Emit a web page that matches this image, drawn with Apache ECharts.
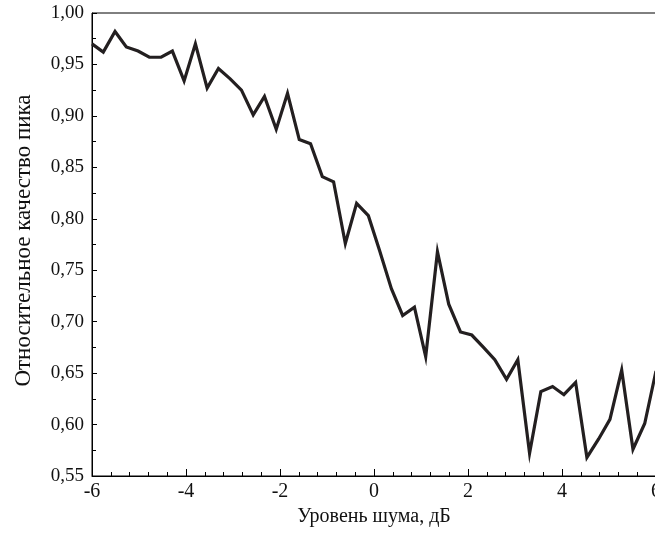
<!DOCTYPE html>
<html>
<head>
<meta charset="utf-8">
<script src="https://cdn.jsdelivr.net/npm/echarts@6/dist/echarts.min.js"></script>
<style>
html,body{margin:0;padding:0;background:#fff;}
#chart{width:655px;height:535px;}
</style>
</head>
<body>
<div id="chart"></div>
<script>
// Noise level, dB (x positions of the measured points)
const noiseDb = [
  -6.00, -5.76, -5.51, -5.27, -5.02, -4.78, -4.53, -4.29, -4.04, -3.80,
  -3.55, -3.31, -3.06, -2.82, -2.57, -2.33, -2.08, -1.84, -1.59, -1.35,
  -1.10, -0.86, -0.61, -0.37, -0.12, 0.12, 0.37, 0.61, 0.86, 1.10,
  1.35, 1.59, 1.84, 2.08, 2.33, 2.57, 2.82, 3.06, 3.31, 3.55,
  3.80, 4.04, 4.29, 4.53, 4.78, 5.02, 5.27, 5.51, 5.76, 6.00
];
// Relative peak quality
const peakQuality = [
  0.970, 0.962, 0.982, 0.967, 0.963, 0.957, 0.957, 0.963, 0.934, 0.970,
  0.927, 0.946, 0.936, 0.925, 0.901, 0.919, 0.887, 0.922, 0.877, 0.873,
  0.841, 0.836, 0.776, 0.815, 0.803, 0.769, 0.732, 0.706, 0.714, 0.666,
  0.768, 0.717, 0.690, 0.687, 0.675, 0.663, 0.644, 0.663, 0.572, 0.632,
  0.637, 0.629, 0.641, 0.568, 0.586, 0.605, 0.653, 0.576, 0.601, 0.652
];
const xTitle = 'Уровень шума, дБ';
const yTitle = 'Относительное качество пика';

const points = noiseDb.map((x, i) => [x, peakQuality[i]]);
const font = 'Liberation Serif';
const chart = echarts.init(document.getElementById('chart'));
chart.setOption({
  animation: false,
  backgroundColor: '#ffffff',
  grid: {left: 92, right: -1, top: 13, bottom: 59, show: true, borderColor: '#000', borderWidth: 1,
    containLabel: false, outerBoundsMode: 'none'},
  xAxis: {
    type: 'value', min: -6, max: 6, interval: 2,
    name: xTitle, nameLocation: 'middle', nameGap: 31,
    nameTextStyle: {fontFamily: font, fontSize: 20, color: '#111'},
    axisLine: {show: true, onZero: false, lineStyle: {color: '#000', width: 1}},
    axisTick: {show: true, inside: true, length: 7, lineStyle: {color: '#000'}},
    minorTick: {show: true, splitNumber: 5, length: 4, lineStyle: {color: '#000'}},
    splitLine: {show: false},
    axisLabel: {fontFamily: font, fontSize: 20, color: '#111', margin: 6,
      formatter: v => String(v)}
  },
  yAxis: {
    type: 'value', min: 0.55, max: 1.0, interval: 0.05,
    name: yTitle, nameLocation: 'middle', nameGap: 57, nameRotate: 90,
    nameTextStyle: {fontFamily: font, fontSize: 23, color: '#111', padding: [0, 0, 0, 8]},
    axisLine: {show: true, onZero: false, lineStyle: {color: '#000', width: 1}},
    axisTick: {show: true, inside: true, length: 5, lineStyle: {color: '#000'}},
    minorTick: {show: true, splitNumber: 2, length: 4, lineStyle: {color: '#000'}},
    splitLine: {show: false},
    axisLabel: {fontFamily: font, fontSize: 19, color: '#111', margin: 8,
      formatter: v => v.toFixed(2).replace('.', ',')}
  },
  series: [{
    type: 'line', data: points, symbol: 'none', clip: true,
    lineStyle: {color: '#231f20', width: 3.2, join: 'miter'}
  }]
});
</script>
</body>
</html>
